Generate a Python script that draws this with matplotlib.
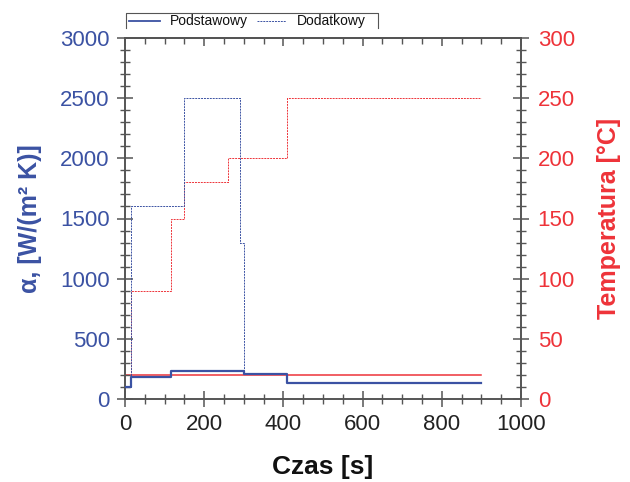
import matplotlib
matplotlib.use("Agg")
import matplotlib.pyplot as plt
from matplotlib.ticker import MultipleLocator
from matplotlib.lines import Line2D

plt.rcParams['font.family'] = ['Liberation Sans', 'DejaVu Sans']

BLUE = '#3b52a3'
RED = '#ee3339'
GRAY = '#555555'

# Podstawowy (basic) variant
t_pod = [0, 15, 115, 300, 410, 900]
alpha_pod = [100, 180, 230, 205, 130, 130]
t_temp_pod = [0, 900]
temp_pod = [20, 20]

# Dodatkowy (additional) variant
t_dod = [0, 15, 150, 290, 300, 410, 900]
alpha_dod = [100, 1600, 2500, 1300, 205, 130, 130]
t_temp_dod = [0, 15, 115, 150, 260, 410, 900]
temp_dod = [20, 90, 150, 180, 200, 250, 250]

series_labels = ['Podstawowy', 'Dodatkowy']
x_label = 'Czas [s]'
y_label = 'α, [W/(m² K)]'
y2_label = 'Temperatura [°C]'

W, H = 630, 482
fig = plt.figure(figsize=(W/100, H/100), dpi=100)
ax = fig.add_axes([125/W, 1-399/H, (521-125)/W, (399-38)/H])
ax2 = ax.twinx()

DASH = (0, (2, 1))
ax2.step(t_temp_pod, temp_pod, where='post', color=RED, lw=1.1, zorder=2)
ax2.step(t_temp_dod, temp_dod, where='post', color=RED, lw=0.7, ls=DASH, zorder=2)
ax.set_zorder(ax2.get_zorder() + 1)
ax.patch.set_visible(False)
ax.step(t_dod, alpha_dod, where='post', color=BLUE, lw=0.7, ls=DASH, zorder=3)
ax.step(t_pod, alpha_pod, where='post', color=BLUE, lw=1.6, zorder=4)

ax.set_xlim(0, 1000)
ax.set_ylim(0, 3000)
ax2.set_ylim(0, 300)

ax.xaxis.set_major_locator(MultipleLocator(200))
ax.xaxis.set_minor_locator(MultipleLocator(50))
ax.yaxis.set_major_locator(MultipleLocator(500))
ax.yaxis.set_minor_locator(MultipleLocator(100))
ax2.yaxis.set_major_locator(MultipleLocator(50))
ax2.yaxis.set_minor_locator(MultipleLocator(10))

for a in (ax, ax2):
    for s in a.spines.values():
        s.set_color(GRAY)
        s.set_linewidth(1.2)

TS = 16
ax.tick_params(axis='x', which='both', direction='inout', color=GRAY, labelsize=TS,
               labelcolor='#222222', top=False, pad=5)
ax.tick_params(axis='x', which='major', length=12, width=1.1)
ax.tick_params(axis='x', which='minor', length=7, width=1.0)
ax.tick_params(axis='y', which='both', direction='inout', color=GRAY, labelsize=TS,
               labelcolor=BLUE, right=False, pad=5)
ax.tick_params(axis='y', which='major', length=12, width=1.1)
ax.tick_params(axis='y', which='minor', length=7, width=1.0)
ax2.tick_params(axis='y', which='both', direction='inout', color=GRAY, labelsize=TS,
                labelcolor=RED, pad=6)
ax2.tick_params(axis='y', which='major', length=12, width=1.1)
ax2.tick_params(axis='y', which='minor', length=7, width=1.0)

# top axis: inward ticks only, no labels
sec = ax.secondary_xaxis('top')
sec.xaxis.set_major_locator(MultipleLocator(200))
sec.xaxis.set_minor_locator(MultipleLocator(50))
sec.tick_params(axis='x', which='both', direction='in', color=GRAY, labeltop=False)
sec.tick_params(axis='x', which='major', length=6, width=1.1)
sec.tick_params(axis='x', which='minor', length=4, width=1.0)
sec.spines['top'].set_color(GRAY)
sec.spines['top'].set_linewidth(1.2)

ax.set_xlabel(x_label, fontsize=19, fontweight='bold', color='#111111', labelpad=14)
ax.set_ylabel(y_label, fontsize=18, fontweight='bold', color=BLUE, labelpad=13)
ax2.set_ylabel(y2_label, fontsize=18, fontweight='bold', color=RED, labelpad=16)

# legend drawn as a box open at the bottom
def fx(px):
    return px / W

def fy(py):
    return 1 - py / H

ly = 21
box = [(126, 28), (126, 13), (378, 13), (378, 28)]
fig.add_artist(Line2D([fx(p[0]) for p in box], [fy(p[1]) for p in box],
                      color=GRAY, lw=0.8, transform=fig.transFigure))
fig.add_artist(Line2D([fx(129), fx(160)], [fy(ly), fy(ly)], color=BLUE, lw=1.3,
                      transform=fig.transFigure))
fig.add_artist(Line2D([fx(257), fx(286)], [fy(ly), fy(ly)], color=BLUE, lw=0.7, ls=DASH,
                      transform=fig.transFigure))
fig.text(fx(170), fy(ly), series_labels[0], fontsize=10, va='center', ha='left', color='#111111')
fig.text(fx(297), fy(ly), series_labels[1], fontsize=10, va='center', ha='left', color='#111111')

fig.savefig('out.png', dpi=100)
